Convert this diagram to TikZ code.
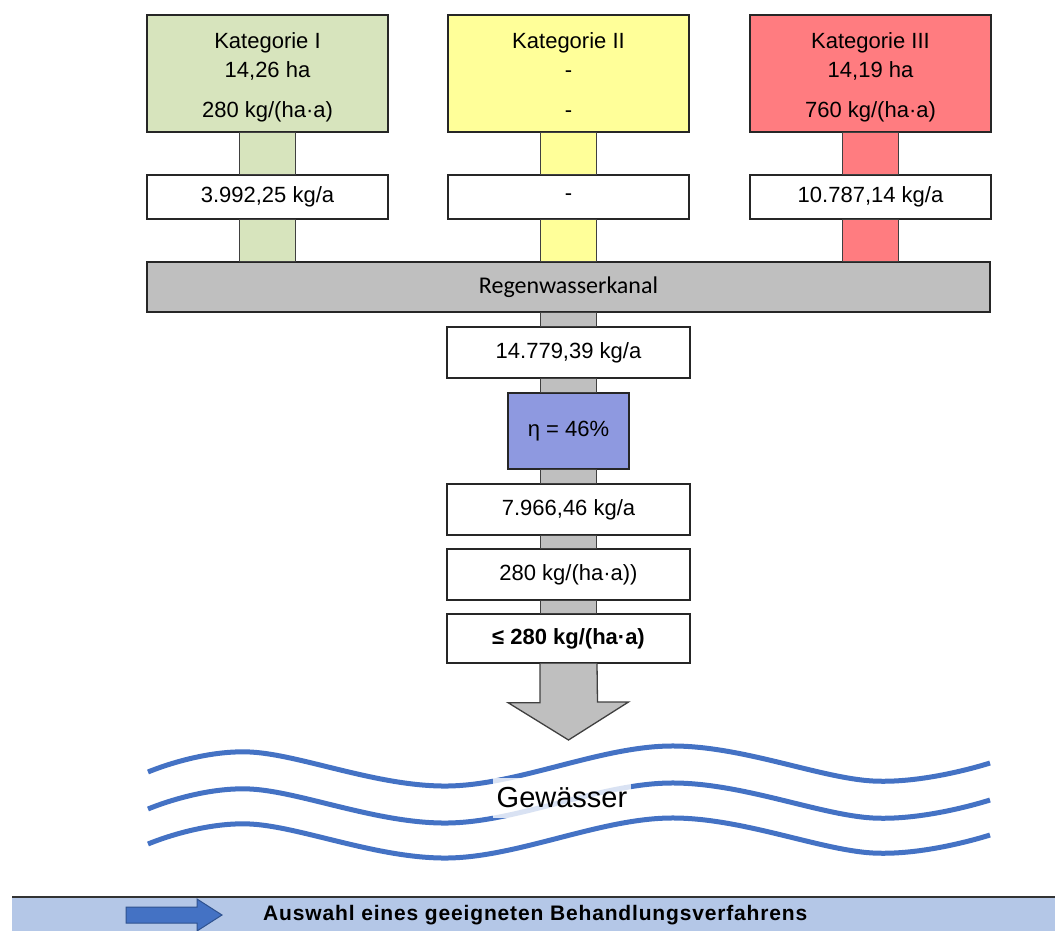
\documentclass[tikz,border=0pt]{standalone}
\usepackage{fontspec}
\setmainfont{Liberation Sans}
\newfontfamily\kanalfont{Carlito}

\definecolor{katI}{RGB}{215,228,189}
\definecolor{katII}{RGB}{255,255,153}
\definecolor{katIII}{RGB}{255,124,128}
\definecolor{pipegray}{RGB}{191,191,191}
\definecolor{etablue}{RGB}{142,153,224}
\definecolor{waveblue}{RGB}{68,114,196}
\definecolor{barblue}{RGB}{180,199,231}
\definecolor{arrowedge}{RGB}{47,82,143}

\newcommand{\topstrut}{\rule{0pt}{25pt}}
\newcommand{\botstrut}{\rule[-6pt]{0pt}{6pt}}

\tikzset{
    box/.style={draw=black!85, line width=1.3pt, inner sep=0pt, align=center,
        font=\fontsize{22}{30}\selectfont},
    topbox/.style={box, minimum width=241, minimum height=117},
    valbox/.style={box, fill=white, minimum width=241, minimum height=44},
    midbox/.style={box, fill=white, minimum width=243, minimum height=51},
    pipe/.style={draw=black!75, line width=1.3pt},
    wave/.style={draw=waveblue, line width=5pt},
}

\begin{document}
\begin{tikzpicture}[x=1pt, y=-1pt]
    \useasboundingbox (0,0) rectangle (1055,931);

    % Categories with their loads
    \node[topbox, fill=katI] (k1) at (267.5,73.5) {\topstrut Kategorie I\\14,26 ha\\[10pt]280 kg/(ha·a)\botstrut};
    \node[topbox, fill=katII] (k2) at (568.5,73.5) {\topstrut Kategorie II\\-\\[10pt]-\botstrut};
    \node[topbox, fill=katIII] (k3) at (870.5,73.5) {\topstrut Kategorie III\\14,19 ha\\[10pt]760 kg/(ha·a)\botstrut};

    \node[valbox] (w1) at (267.5,197) {3.992,25 kg/a};
    \node[valbox] (w2) at (568.5,197) {-};
    \node[valbox] (w3) at (870.5,197) {10.787,14 kg/a};

    \node[box, fill=pipegray, minimum width=843, minimum height=50,
        font=\kanalfont\fontsize{24}{28}\selectfont] (kanal) at (568.5,287) {Regenwasserkanal};

    \draw[pipe, fill=katI] ([xshift=-28pt]k1.south) rectangle ([xshift=28pt]w1.north);
    \draw[pipe, fill=katI] ([xshift=-28pt]w1.south) rectangle ([xshift=28pt]w1.south |- kanal.north);
    \draw[pipe, fill=katII] ([xshift=-28pt]k2.south) rectangle ([xshift=28pt]w2.north);
    \draw[pipe, fill=katII] ([xshift=-28pt]w2.south) rectangle ([xshift=28pt]w2.south |- kanal.north);
    \draw[pipe, fill=katIII] ([xshift=-28pt]k3.south) rectangle ([xshift=28pt]w3.north);
    \draw[pipe, fill=katIII] ([xshift=-28pt]w3.south) rectangle ([xshift=28pt]w3.south |- kanal.north);

    % Central column: sum, treatment, result
    \node[midbox] (sum) at (568.5,352.5) {14.779,39 kg/a};
    \node[box, fill=etablue, minimum width=121, minimum height=76] (eta) at (568.5,431) {η = 46\%};
    \node[midbox] (out) at (568.5,509.5) {7.966,46 kg/a};
    \node[midbox] (spec) at (568.5,574.5) {280 kg/(ha·a))};
    \node[midbox, minimum height=49, font=\fontsize{22}{30}\selectfont\bfseries] (limit) at (568.5,638.5) {≤ 280 kg/(ha·a)};

    \draw[pipe, fill=pipegray] ([xshift=-28pt]kanal.south) rectangle ([xshift=28pt]sum.north);
    \draw[pipe, fill=pipegray] ([xshift=-28pt]sum.south) rectangle ([xshift=28pt]eta.north);
    \draw[pipe, fill=pipegray] ([xshift=-28pt]eta.south) rectangle ([xshift=28pt]out.north);
    \draw[pipe, fill=pipegray] ([xshift=-28pt]out.south) rectangle ([xshift=28pt]spec.north);
    \draw[pipe, fill=pipegray] ([xshift=-28pt]spec.south) rectangle ([xshift=28pt]limit.north);

    % Outflow arrow into the water
    \coordinate (tip) at (568.5,740);
    \draw[pipe, fill=pipegray, line join=miter] ([xshift=-28.5pt]limit.south) -- ++(0,39) -- ++(-32,0)
        -- (tip) -- ++(60,-38) -- ++(-31,0) -- ([xshift=28.5pt]limit.south);

    % Waves
    \foreach \dy in {0,37,72} {
        \draw[wave] plot[smooth, tension=0.6] coordinates
            {(148,772+\dy) (250,752+\dy) (448,786+\dy) (670,746+\dy) (873,781+\dy) (990,763+\dy)};
    }
    \node[fill=white, fill opacity=0.8, text opacity=1, inner xsep=4, inner ysep=10,
        font=\fontsize{29}{32}\selectfont] (water) at (562,798) {Gewässer};

    % Bottom bar
    \fill[barblue] (12,897) rectangle (1055,931);
    \draw[line width=2pt, black!80] (12,897) -- (1055,897);
    \draw[fill=waveblue, draw=arrowedge, line width=1pt] (126,907) -- (197,907) -- (197,899)
        -- (222,915) -- (197,931) -- (197,923) -- (126,923) -- cycle;
    \node[anchor=west, inner sep=0pt,
        font=\fontsize{21}{24}\selectfont\bfseries\addfontfeature{LetterSpace=4}] (choice) at (263,915)
        {Auswahl eines geeigneten Behandlungsverfahrens};
\end{tikzpicture}
\end{document}
